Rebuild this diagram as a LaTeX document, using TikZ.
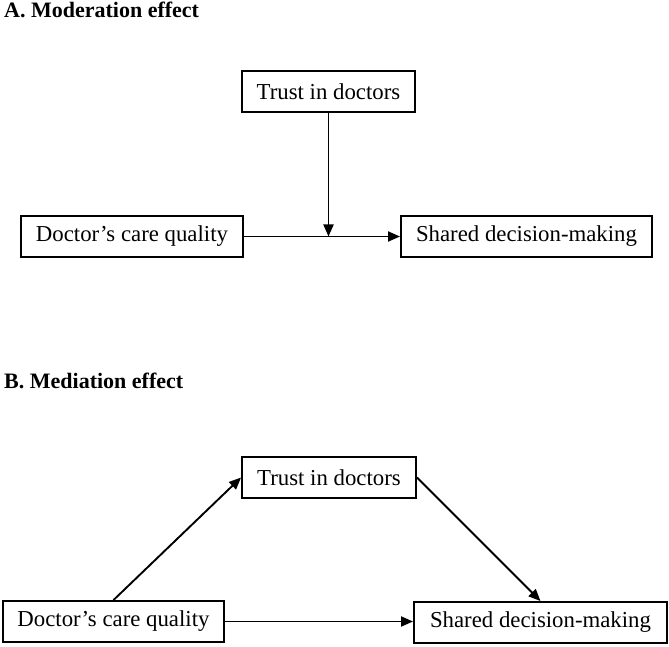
\documentclass[tikz,border=0pt]{standalone}
\usepackage{fontspec}
\setmainfont{Liberation Serif}
\usetikzlibrary{arrows.meta}
\begin{document}
\begin{tikzpicture}[x=1pt,y=1pt,
  box/.style={draw=black, line width=1.9pt, inner sep=0pt, font=\fontsize{22.8}{26}\selectfont},
  title/.style={anchor=base west, inner sep=0pt, font=\bfseries\fontsize{22}{26}\selectfont},
  conn/.style={line width=1.9pt, -{Triangle[length=12pt,width=10pt]}}]
\useasboundingbox (0,0) rectangle (669,646);
% titles
\node[title] (ta) at (4,628.5) {A. Moderation effect};
\node[title] (tb) at (4,258) {B. Mediation effect};
% panel A
\node[box, minimum width=173pt, minimum height=41pt] (trustA) at (328.5,554.5) {Trust in doctors};
\node[box, minimum width=222pt, minimum height=41pt] (docA) at (132,409.5) {Doctor’s care quality};
\node[box, minimum width=251pt, minimum height=41pt] (sharedA) at (526.5,409.5) {Shared decision-making};
\draw[conn] (docA.east) -- (sharedA.west);
\coordinate (modpt) at (trustA.south |- docA.east);
\draw[conn] (trustA.south) -- (modpt);
% panel B
\node[box, minimum width=174pt, minimum height=41pt] (trustB) at (329,168.5) {Trust in doctors};
\node[box, minimum width=221pt, minimum height=41pt] (docB) at (113.5,24.5) {Doctor’s care quality};
\node[box, minimum width=253pt, minimum height=41pt] (sharedB) at (540.5,23.5) {Shared decision-making};
\draw[conn] (docB.north) -- (trustB.west);
\draw[conn] (trustB.east) -- (sharedB.north);
\draw[conn] (docB.east) -- (docB.east -| sharedB.west);
\end{tikzpicture}
\end{document}
